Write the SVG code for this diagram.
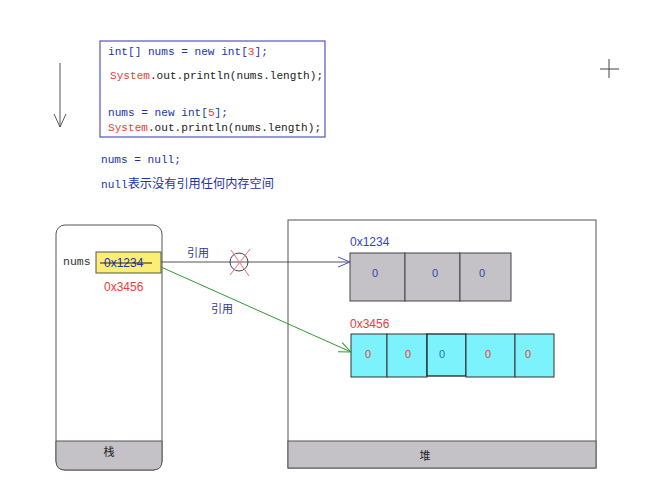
<svg xmlns="http://www.w3.org/2000/svg" width="656" height="496" viewBox="0 0 656 496">
<defs>
<style>
.code{font-family:"Liberation Mono","DejaVu Sans Mono",monospace;font-size:11.1px;}
.kw{fill:#2233aa;}
.red{fill:#e8403a;}
.dk{fill:#222;}
.cjk{font-family:"Liberation Sans","Noto Sans CJK SC",sans-serif;}
.addr{font-family:"Liberation Sans",sans-serif;font-size:12px;}
.cell0{font-family:"Liberation Sans",sans-serif;font-size:11px;text-anchor:middle;}
</style>
<marker id="openBlue" markerWidth="14" markerHeight="12" refX="13" refY="6" orient="auto" markerUnits="userSpaceOnUse">
<path d="M1,1 L13,6 L1,11" fill="none" stroke="#4455bb" stroke-width="1"/>
</marker>
<marker id="openGreen" markerWidth="14" markerHeight="12" refX="13" refY="6" orient="auto" markerUnits="userSpaceOnUse">
<path d="M1,1 L13,6 L1,11" fill="none" stroke="#339933" stroke-width="1"/>
</marker>
</defs>
<rect width="656" height="496" fill="#fff"/>

<g id="flow-arrow">
<line x1="60" y1="63" x2="60" y2="127" stroke="#555" stroke-width="1"/>
<path d="M54,114 L60,127 L66,114" fill="none" stroke="#555" stroke-width="1"/>
</g>

<g id="code">
<rect x="100" y="41" width="225" height="96" fill="#fff" stroke="#5555bb" stroke-width="1.2"/>
<text class="code" x="108" y="55"><tspan class="kw">int[] nums = new int[</tspan><tspan class="red">3</tspan><tspan class="kw">];</tspan></text>
<text class="code" x="110" y="79"><tspan class="red">System</tspan><tspan class="dk">.out.println(nums.length);</tspan></text>
<text class="code" x="108" y="116"><tspan class="kw">nums = new int[</tspan><tspan class="red">5</tspan><tspan class="kw">];</tspan></text>
<text class="code" x="108" y="131"><tspan class="red">System</tspan><tspan class="dk">.out.println(nums.length);</tspan></text>
</g>

<g id="notes">
<text class="code kw" x="101" y="163">nums = null;</text>
<text x="101" y="188" font-size="11.1" class="kw" font-family="Liberation Mono,Noto Sans CJK SC,monospace"><tspan>null</tspan><tspan font-size="12.2">表示没有引用任何内存空间</tspan></text>
</g>

<g id="crosshair">
<line x1="600" y1="69" x2="619" y2="69" stroke="#444" stroke-width="1"/>
<line x1="609" y1="59" x2="609" y2="78" stroke="#444" stroke-width="1"/>
</g>

<g id="stack">
<rect x="56" y="225" width="106" height="245" rx="9" fill="#fff" stroke="#555" stroke-width="1"/>
<path d="M56,441 L162,441 L162,461 Q162,470 153,470 L65,470 Q56,470 56,461 Z" fill="#c4c2c6" stroke="#555" stroke-width="1"/>
<text x="109" y="456" font-size="11" text-anchor="middle" class="cjk" fill="#222">栈</text>
<text x="63" y="265" font-family="Liberation Mono,monospace" font-size="11.5" fill="#333">nums</text>
<rect x="96" y="252" width="65" height="21" fill="#fcee74" stroke="#555" stroke-width="1"/>
<text class="addr" x="104" y="267" fill="#2233aa">0x1234</text>
<line x1="100" y1="263" x2="152" y2="263" stroke="#222" stroke-width="1"/>
<text class="addr" x="104" y="291" fill="#e8403a">0x3456</text>
</g>

<g id="heap">
<rect x="288" y="220" width="308" height="248" fill="#fff" stroke="#555" stroke-width="1"/>
<rect x="288" y="441" width="308" height="27" fill="#c4c2c6" stroke="#555" stroke-width="1"/>
<text x="425" y="460" font-size="11" text-anchor="middle" class="cjk" fill="#222">堆</text>
</g>

<g id="array3">
<text class="addr" x="350" y="246" fill="#3344cc">0x1234</text>
<rect x="350" y="253" width="55" height="48" fill="#c4c2c6" stroke="#444" stroke-width="1"/>
<rect x="405" y="253" width="55" height="48" fill="#c4c2c6" stroke="#444" stroke-width="1"/>
<rect x="460" y="253" width="51" height="48" fill="#c4c2c6" stroke="#444" stroke-width="1"/>
<text class="cell0" x="375" y="277" fill="#3344aa">0</text>
<text class="cell0" x="435" y="277" fill="#3344aa">0</text>
<text class="cell0" x="482" y="277" fill="#3344aa">0</text>
</g>

<g id="array5">
<text class="addr" x="350" y="328" fill="#e8403a">0x3456</text>
<rect x="351" y="334" width="36" height="43" fill="#7cf2fc" stroke="#333" stroke-width="1"/>
<rect x="387" y="334" width="40" height="43" fill="#7cf2fc" stroke="#333" stroke-width="1"/>
<rect x="427" y="334" width="39" height="42" fill="#7cf2fc" stroke="#222" stroke-width="1.3"/>
<rect x="466" y="334" width="49" height="43" fill="#7cf2fc" stroke="#333" stroke-width="1"/>
<rect x="515" y="334" width="39" height="43" fill="#7cf2fc" stroke="#333" stroke-width="1"/>
<text class="cell0" x="368" y="358" fill="#e8403a">0</text>
<text class="cell0" x="408" y="358" fill="#e8403a">0</text>
<text class="cell0" x="442" y="358" fill="#2277aa">0</text>
<text class="cell0" x="488" y="358" fill="#e8403a">0</text>
<text class="cell0" x="528" y="358" fill="#e8403a">0</text>
</g>

<g id="connectors">
<line x1="161" y1="262" x2="350" y2="262" stroke="#555" stroke-width="1.2" marker-end="url(#openBlue)"/>
<circle cx="239" cy="262" r="9" fill="none" stroke="#444" stroke-width="1"/>
<line x1="230" y1="275" x2="250" y2="249" stroke="#f07070" stroke-width="1"/>
<line x1="231" y1="250" x2="249" y2="276" stroke="#f07070" stroke-width="1"/>
<text x="198" y="257" font-size="11" text-anchor="middle" class="cjk" fill="#333399">引用</text>
<line x1="161" y1="267" x2="351" y2="352" stroke="#339933" stroke-width="1" marker-end="url(#openGreen)"/>
<text x="222" y="313" font-size="11" text-anchor="middle" class="cjk" fill="#333399">引用</text>
</g>
</svg>
